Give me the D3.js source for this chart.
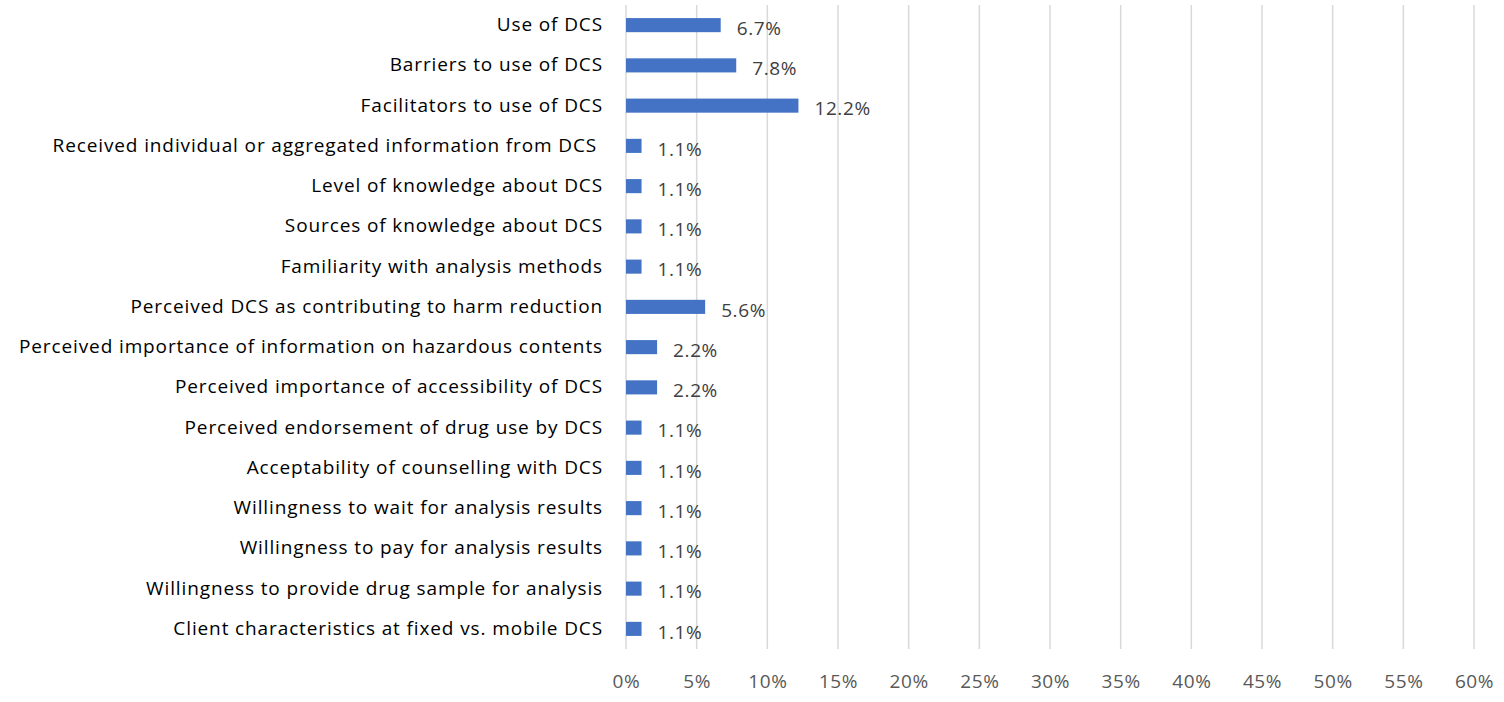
<!DOCTYPE html>
<html>
<head>
<meta charset="utf-8">
<script src="https://cdn.jsdelivr.net/npm/d3@7"></script>
<style>
  body { margin: 0; background: #fff; }
  text { font-family: "Open Sans", "Liberation Sans", sans-serif; }
</style>
</head>
<body>
<svg width="1504" height="702"></svg>
<script>
var categories = [
	"Use of DCS",
	"Barriers to use of DCS",
	"Facilitators to use of DCS",
	"Received individual or aggregated information from DCS ",
	"Level of knowledge about DCS",
	"Sources of knowledge about DCS",
	"Familiarity with analysis methods",
	"Perceived DCS as contributing to harm reduction",
	"Perceived importance of information on hazardous contents",
	"Perceived importance of accessibility of DCS",
	"Perceived endorsement of drug use by DCS",
	"Acceptability of counselling with DCS",
	"Willingness to wait for analysis results",
	"Willingness to pay for analysis results",
	"Willingness to provide drug sample for analysis",
	"Client characteristics at fixed vs. mobile DCS"
];
var values = [6.7, 7.8, 12.2, 1.1, 1.1, 1.1, 1.1, 5.6, 2.2, 2.2, 1.1, 1.1, 1.1, 1.1, 1.1, 1.1];
var ticks = [0, 5, 10, 15, 20, 25, 30, 35, 40, 45, 50, 55, 60];

var svg = d3.select("svg");

// x scale in percent
var xScale = d3.scaleLinear()
	.domain([0, 60])
	.range([626, 1474]);

var yScale = d3.scaleBand()
	.domain(categories)
	.range([5, 649])
	.paddingInner(0.65)
	.paddingOuter(0.325);

// gridlines
svg.append("g")
	.selectAll("line")
	.data(ticks)
	.enter()
	.append("line")
	.attr("x1", function(d){ return xScale(d); })
	.attr("x2", function(d){ return xScale(d); })
	.attr("y1", 5)
	.attr("y2", 649)
	.attr("stroke", "#d9d9d9")
	.attr("stroke-width", 1.5);

// x axis labels
var xAxis = d3.axisBottom(xScale)
	.tickValues(ticks)
	.tickSize(0)
	.tickPadding(0)
	.tickFormat(function(d){ return d + "%"; });

var gx = svg.append("g")
	.attr("transform", "translate(0, 674)")
	.call(xAxis);
gx.select(".domain").remove();
gx.selectAll("text")
	.attr("fill", "#595959")
	.style("font-size", "19px")
	.style("letter-spacing", "0.6px");

// bars
svg.append("g")
	.selectAll("rect")
	.data(values)
	.enter()
	.append("rect")
	.attr("x", xScale(0))
	.attr("y", function(d, i){ return yScale(categories[i]); })
	.attr("width", function(d){ return xScale(d) - xScale(0); })
	.attr("height", yScale.bandwidth())
	.attr("fill", "#4472c4");

// value labels
svg.append("g")
	.selectAll("text")
	.data(values)
	.enter()
	.append("text")
	.attr("x", function(d){ return xScale(d) + 16; })
	.attr("y", function(d, i){ return yScale(categories[i]) + yScale.bandwidth() / 2 + 3; })
	.attr("dy", "0.35em")
	.attr("fill", "#404040")
	.style("font-size", "19px")
	.style("letter-spacing", "0.6px")
	.text(function(d){ return d.toFixed(1) + "%"; });

// category labels
var yAxis = d3.axisLeft(yScale)
	.tickSize(0)
	.tickPadding(23);

var gy = svg.append("g")
	.attr("transform", "translate(" + xScale(0) + ", 0)")
	.call(yAxis);
gy.select(".domain").remove();
gy.selectAll("text")
	.attr("fill", "#000")
	.style("font-size", "19px")
	.style("letter-spacing", "0.88px")
	.style("white-space", "pre");
</script>
</body>
</html>
